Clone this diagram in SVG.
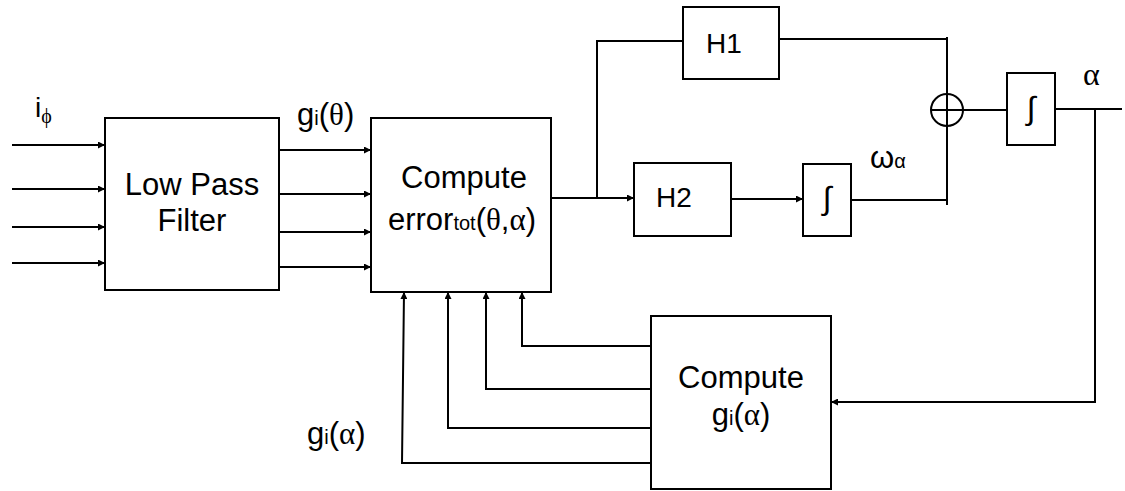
<svg xmlns="http://www.w3.org/2000/svg" width="1125" height="491" viewBox="0 0 1125 491">
<defs>
<marker id="arr" viewBox="0 0 10 10" refX="10" refY="5" markerWidth="9" markerHeight="7" markerUnits="userSpaceOnUse" orient="auto"><path d="M0,0 L10,5 L0,10 z" fill="#000"/></marker>
<style>
.box{fill:#fff;stroke:#000;stroke-width:2}
.ln{fill:none;stroke:#000;stroke-width:2}
.ar{fill:none;stroke:#000;stroke-width:2;marker-end:url(#arr)}
.t{font-family:"Liberation Sans",Arial,sans-serif;font-size:31px;fill:#000}
.s{font-family:"Liberation Serif","Times New Roman",serif}
.int{font-family:"Liberation Mono","Courier New",monospace;font-size:32px}
.sub{font-size:20px}
</style>
</defs>
<rect width="1125" height="491" fill="#fff"/>
<g id="connectors">
<path class="ar" d="M12 145 H105"/>
<path class="ar" d="M12 189 H105"/>
<path class="ar" d="M12 227 H105"/>
<path class="ar" d="M12 263 H105"/>
<path class="ar" d="M279 150 H371"/>
<path class="ar" d="M279 194 H371"/>
<path class="ar" d="M279 232 H371"/>
<path class="ar" d="M279 267 H371"/>
<path class="ar" d="M551 198 H634"/>
<path class="ln" d="M597 198 V41 H683"/>
<path class="ln" d="M779 39 H947"/>
<path class="ln" d="M947 37 V205"/>
<path class="ar" d="M731 199 H803"/>
<path class="ln" d="M851 200 H947"/>
<path class="ln" d="M963 110 H1007"/>
<path class="ln" d="M1055 109 H1122"/>
<path class="ln" d="M1095 109 V403"/>
<path class="ar" d="M1095 402 H831"/>
<path class="ar" d="M651 346 H522 V292"/>
<path class="ar" d="M651 389 H486 V292"/>
<path class="ar" d="M651 428 H448 V292"/>
<path class="ar" d="M651 463 H402 L404 292"/>
</g>
<g id="lpf">
<rect class="box" x="105" y="118" width="174" height="172"/>
<text class="t" x="192" y="195" text-anchor="middle">Low Pass</text>
<text class="t" x="192" y="231" text-anchor="middle">Filter</text>
</g>
<g id="compute-error">
<rect class="box" x="371" y="118" width="180" height="174"/>
<text class="t" x="464" y="188" text-anchor="middle">Compute</text>
<text class="t" x="462" y="230" text-anchor="middle">error<tspan class="sub">tot</tspan>(<tspan class="s">θ</tspan>,<tspan class="s">α</tspan>)</text>
</g>
<g id="h1">
<rect class="box" x="683" y="7" width="96" height="72"/>
<text class="t" x="706" y="53" style="font-size:28px">H1</text>
</g>
<g id="h2">
<rect class="box" x="634" y="163" width="97" height="73"/>
<text class="t" x="656" y="207" style="font-size:28px">H2</text>
</g>
<g id="int2">
<rect class="box" x="803" y="164" width="48" height="72"/>
<text class="int" x="827" y="209" text-anchor="middle">∫</text>
</g>
<g id="sum">
<circle class="box" cx="947" cy="110" r="16"/>
<path class="ln" d="M931 110 H963 M947 94 V126"/>
</g>
<g id="int1">
<rect class="box" x="1007" y="73" width="48" height="72"/>
<text class="int" x="1031" y="119" text-anchor="middle">∫</text>
</g>
<g id="compute-g">
<rect class="box" x="651" y="316" width="180" height="173"/>
<text class="t" x="741" y="388" text-anchor="middle">Compute</text>
<text class="t" x="741" y="425" text-anchor="middle">g<tspan class="sub">i</tspan>(<tspan class="s">α</tspan>)</text>
</g>
<g id="labels">
<text class="t" x="35" y="117" style="font-size:28px">i<tspan class="s sub" dy="6">ϕ</tspan></text>
<text class="t" x="297" y="125">g<tspan class="sub">i</tspan>(<tspan class="s">θ</tspan>)</text>
<text class="t" x="307" y="444">g<tspan class="sub">i</tspan>(<tspan class="s">α</tspan>)</text>
<text class="t" x="870" y="168">ω<tspan class="sub">α</tspan></text>
<text class="t s" x="1083" y="85" style="font-size:32px">α</text>
</g>
</svg>
